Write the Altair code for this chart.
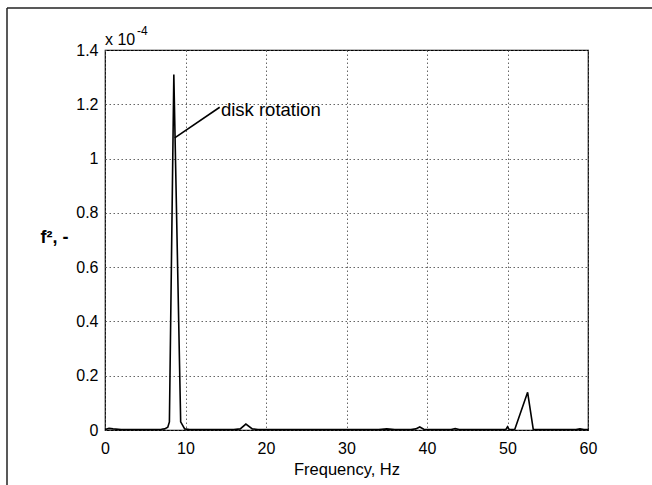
import altair as alt
import pandas as pd

# Spectrum (amplitude in units of 1e-4)
freq = [0.0, 0.5, 1.0, 2.0, 3.0, 4.0, 5.0, 6.0, 7.0, 7.4, 7.8, 8.0, 8.55, 9.4, 9.9,
        10.5, 12.0, 14.0, 16.0, 16.8, 17.5, 18.3, 19.0, 22.0, 25.0, 28.0, 31.0,
        34.0, 35.0, 36.0, 38.0, 38.6, 39.1, 39.6, 41.0, 43.0, 43.5, 44.0, 46.0,
        48.0, 49.8, 50.0, 50.2, 50.9, 52.5, 53.2, 55.0, 57.0, 58.5, 59.0, 59.5, 60.0]
amp = [0.002, 0.006, 0.004, 0.002, 0.002, 0.002, 0.002, 0.002, 0.003, 0.004, 0.01, 0.03, 1.31, 0.03, 0.004,
       0.002, 0.002, 0.002, 0.002, 0.004, 0.022, 0.004, 0.002, 0.002, 0.002, 0.002, 0.002,
       0.002, 0.004, 0.002, 0.002, 0.004, 0.011, 0.003, 0.002, 0.002, 0.005, 0.002, 0.002,
       0.002, 0.002, 0.012, 0.002, 0.002, 0.139, 0.002, 0.002, 0.002, 0.002, 0.004, 0.002, 0.002]

x_ticks = [0, 10, 20, 30, 40, 50, 60]
y_ticks = [0, 0.2, 0.4, 0.6, 0.8, 1.0, 1.2, 1.4]

# annotation "disk rotation"
ann_x = [8.66, 14.25]
ann_y = [1.076, 1.189]
ann_text = ["disk rotation"]
ann_tx = [14.4]
ann_ty = [1.18]

FONT = "Liberation Sans"

df = pd.DataFrame({"f": freq, "a": amp})
xs = alt.Scale(domain=[0, 60], nice=False, zero=False)
ys = alt.Scale(domain=[0, 1.4], nice=False)

line = alt.Chart(df).mark_line(color="black", strokeWidth=1.6).encode(
    x=alt.X("f:Q", scale=xs,
            axis=alt.Axis(values=x_ticks, title="Frequency, Hz", grid=True,
                          tickSize=0, labelPadding=10, titlePadding=5,
                          labelFlush=False)),
    y=alt.Y("a:Q", scale=ys,
            axis=alt.Axis(values=y_ticks, format="~g", title="f², -", grid=True,
                          tickSize=0, labelPadding=7, titleAngle=0,
                          titleX=-51, titleY=187, titleAlign="center",
                          titleBaseline="middle", titleFontWeight="bold",
                          titleFontSize=18)),
)

ann_df = pd.DataFrame({"x": ann_x, "y": ann_y})
ann_line = alt.Chart(ann_df).mark_line(color="black", strokeWidth=1.6).encode(
    x=alt.X("x:Q", scale=xs), y=alt.Y("y:Q", scale=ys))
ann_lab = alt.Chart(pd.DataFrame({"x": ann_tx, "y": ann_ty, "t": ann_text})).mark_text(
    align="left", baseline="middle", fontSize=18.5, font=FONT, color="black").encode(
    x=alt.X("x:Q", scale=xs), y=alt.Y("y:Q", scale=ys), text="t:N")

exp_base = alt.Chart(pd.DataFrame({"t": ["x 10"]})).mark_text(
    align="left", baseline="alphabetic", fontSize=16, font=FONT, color="black").encode(
    x=alt.value(0), y=alt.value(-5), text="t:N")
exp_sup = alt.Chart(pd.DataFrame({"t": ["-4"]})).mark_text(
    align="left", baseline="alphabetic", fontSize=12, font=FONT, color="black").encode(
    x=alt.value(32), y=alt.value(-15), text="t:N")

frame_top = alt.Chart(pd.DataFrame({"k": [0]})).mark_rule(color="#222", strokeWidth=1.5).encode(
    x=alt.value(-98), x2=alt.value(547), y=alt.value(-42))
frame_left = alt.Chart(pd.DataFrame({"k": [0]})).mark_rule(color="#222", strokeWidth=1.5).encode(
    x=alt.value(-98), y=alt.value(-42), y2=alt.value(435))

chart = alt.layer(line, ann_line, ann_lab, exp_base, exp_sup, frame_top, frame_left).properties(
    width=483, height=380,
    autosize=alt.AutoSizeParams(type="none"),
    padding={"left": 105, "top": 50, "right": 64, "bottom": 55},
    background="white",
).configure_view(
    stroke="black", strokeWidth=1.2
).configure_axis(
    labelFont=FONT, titleFont=FONT, labelFontSize=16, titleFontSize=16.5,
    labelColor="black", titleColor="black", titleFontWeight="normal",
    domain=False, gridColor="#555", gridDash=[1.5, 2.5], gridWidth=0.9, gridOpacity=1,
)

chart.save("out.html", embed_options={"renderer": "svg", "actions": False})
